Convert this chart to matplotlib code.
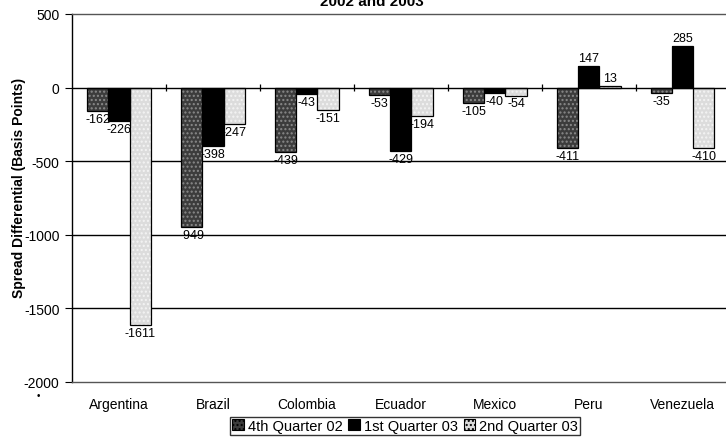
import numpy as np
import matplotlib.pyplot as plt
from matplotlib.patches import Patch

plt.rcParams['font.family'] = ['Liberation Sans', 'DejaVu Sans']

countries = ["Argentina", "Brazil", "Colombia", "Ecuador", "Mexico", "Peru", "Venezuela"]
series = ["4th Quarter 02", "1st Quarter 03", "2nd Quarter 03"]
q4_02 = [-162, -949, -439, -53, -105, -411, -35]
q1_03 = [-226, -398, -43, -429, -40, 147, 285]
q2_03 = [-1611, -247, -151, -194, -54, 13, -410]
yticks = [500, 0, -500, -1000, -1500, -2000]

faces = ["#3c3c3c", "#000000", "#dcdcdc"]
hatches = ["....", None, "...."]
hatch_cols = ["#8a8a8a", "#000000", "#f4f4f4"]

fig = plt.figure(figsize=(7.26, 4.39), dpi=100)
ax = fig.add_axes([72 / 726, 1 - 383 / 439, 654 / 726, 368 / 439])

x = np.arange(len(countries))
w = 0.225
for i, vals in enumerate([q4_02, q1_03, q2_03]):
    pos = x + (i - 1) * w
    # fill with stipple, then outline
    ax.bar(pos, vals, w, color=faces[i], edgecolor=hatch_cols[i], hatch=hatches[i],
           linewidth=0, zorder=3)
    ax.bar(pos, vals, w, fill=False, edgecolor="black", linewidth=0.9, zorder=4)
    for p, v in zip(pos, vals):
        off = 12 if v > 0 else -12
        ax.text(p, v + off, str(v), ha="center", va="bottom" if v > 0 else "top",
                fontsize=9, zorder=5)

ax.set_ylim(-2000, 500)
ax.set_xlim(-0.5, 6.46)
ax.set_yticks(yticks)
ax.set_yticklabels([str(t) for t in yticks], fontsize=10)
ax.set_xticks(x)
ax.set_xticklabels(countries, fontsize=10)
ax.tick_params(axis="x", length=0, pad=11)
ax.tick_params(axis="y", length=5, width=0.8, direction="out", pad=4)

for g in [-500, -1000, -1500]:
    ax.axhline(g, color="black", linewidth=1.0, zorder=1)
ax.axhline(0, color="black", linewidth=1.0, zorder=6)
ax.vlines(x[:-1] + 0.5, -25, 25, color="black", linewidth=0.9, zorder=6)

for s in ["top", "bottom"]:
    ax.spines[s].set_linestyle((0, (1, 1)))
    ax.spines[s].set_color("#555555")
    ax.spines[s].set_linewidth(1.0)
ax.spines["right"].set_visible(False)
ax.spines["left"].set_linewidth(1.0)

ax.set_ylabel("Spread Differential (Basis Points)", fontsize=10, fontweight="bold",
              va="center")
ax.yaxis.set_label_coords(-(72 - 19) / 654, (383 - 188) / 368)

handles = [Patch(facecolor=faces[i], edgecolor="black", hatch=hatches[i], linewidth=0.8)
           for i in range(3)]
fig.legend(handles, series, loc="lower center", bbox_to_anchor=(0.558, 0.0), ncol=3,
           fontsize=10.5, frameon=True, fancybox=False, edgecolor="black",
           handlelength=0.8, handleheight=0.8, handletextpad=0.25, columnspacing=0.4,
           borderpad=0.15, borderaxespad=0.2)

fig.text(372 / 726, 1 - 2 / 439, "2002 and 2003", ha="center", va="center",
         fontsize=11, fontweight="bold")
fig.text(38 / 726, 1 - 396 / 439, "\u2022", ha="center", va="center", fontsize=7)

fig.savefig("out.png", dpi=100)
